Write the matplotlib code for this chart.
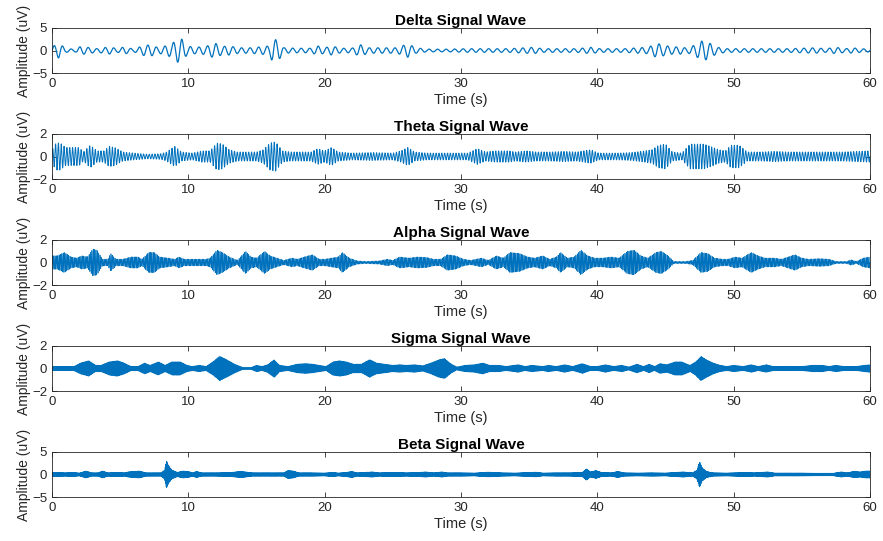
import numpy as np
import matplotlib.pyplot as plt

plt.rcParams['font.family'] = ['Liberation Sans', 'DejaVu Sans']

# sampling of the drawn traces
fs = 200
t = np.arange(0, 60 + 1.0 / fs, 1.0 / fs)

bands = ['Delta', 'Theta', 'Alpha', 'Sigma', 'Beta']
centre_freq = [1.6, 4.8, 10.0, 13.0, 21.0]   # Hz, typical rhythm of each band
ylims = [5, 2, 2, 2, 5]
xticks = [0, 10, 20, 30, 40, 50, 60]

# burst envelopes: (time s, amplitude uV)
delta_t = [0, 0.5, 1.0, 1.7, 2.1, 2.6, 3.3, 4.2, 4.8, 5.3, 6.0, 6.8, 7.3, 7.8, 8.3, 8.8,
           9.2, 9.5, 9.9, 10.5, 11.3, 11.9, 12.5, 13.0, 13.7, 14.5, 15.3, 15.9, 16.2,
           16.6, 17.0, 18.0, 19.0, 19.5, 20.0, 20.5, 21.2, 22.0, 22.6, 23.2, 24.2, 25.3,
           26.1, 26.7, 27.5, 29.0, 30.5, 32.0, 33.5, 35.3, 36.0, 37.5, 38.5, 39.5, 40.2,
           42.0, 43.0, 43.7, 44.4, 44.8, 45.5, 46.1, 46.6, 47.2, 47.8, 48.2, 48.8, 49.5,
           52.0, 54.0, 56.0, 56.7, 57.5, 58.2, 58.7, 59.3, 60.0]
delta_a = [0.8, 1.7, 0.4, 0.3, 0.9, 0.7, 0.4, 0.8, 0.4, 0.8, 0.3, 1.2, 1.2, 0.6, 1.0, 1.5,
           2.6, 2.6, 1.0, 0.7, 0.9, 1.7, 0.9, 1.0, 0.6, 0.6, 0.8, 1.0, 2.6,
           2.2, 0.6, 0.5, 0.5, 1.0, 0.6, 1.0, 0.5, 0.5, 1.3, 0.6, 0.6, 0.6,
           1.5, 0.6, 0.3, 0.3, 0.4, 0.4, 0.4, 0.7, 0.4, 0.4, 0.4, 0.7, 0.4,
           0.4, 0.6, 0.7, 1.6, 1.2, 0.8, 0.8, 0.5, 1.3, 2.3, 1.7, 0.7, 0.4,
           0.4, 0.4, 0.6, 0.4, 0.7, 0.4, 0.6, 0.4, 0.3]

theta_t = [0, 0.3, 0.6, 1.0, 2.0, 2.3, 2.8, 3.3, 3.8, 4.2, 4.6, 5.2, 6.0, 7.0, 8.0, 8.4,
           9.0, 9.5, 10.3, 11.0, 11.6, 12.1, 12.5, 13.0, 13.6, 15.0, 15.5, 16.0, 16.4,
           16.9, 17.5, 19.0, 19.5, 20.0, 20.5, 21.0, 22.0, 23.5, 25.0, 25.6, 26.1, 26.6,
           27.5, 29.0, 30.5, 31.2, 31.8, 32.5, 33.5, 34.0, 34.8, 35.5, 36.5, 37.5, 38.5,
           39.5, 40.1, 41.5, 42.5, 43.5, 44.0, 44.5, 45.0, 45.5, 46.2, 46.8, 47.3, 47.8,
           48.3, 48.9, 49.4, 49.8, 50.4, 51.0, 52.0, 53.0, 54.0, 55.0, 56.5, 58.0, 59.0,
           60.0]
theta_a = [0.6, 1.2, 1.2, 0.8, 0.8, 0.4, 1.0, 0.5, 0.5, 0.9, 0.8, 0.4, 0.3, 0.2, 0.25, 0.4,
           0.9, 0.4, 0.3, 0.5, 0.5, 1.2, 1.1, 0.6, 0.4, 0.4, 0.6, 1.2, 1.3,
           0.5, 0.4, 0.4, 0.7, 0.5, 0.8, 0.4, 0.3, 0.35, 0.3, 0.5, 0.8, 0.4,
           0.3, 0.3, 0.3, 0.7, 0.4, 0.5, 0.5, 0.4, 0.5, 0.4, 0.4, 0.45, 0.4,
           0.6, 0.3, 0.3, 0.35, 0.5, 0.6, 1.0, 1.1, 0.4, 0.3, 1.1, 1.1, 1.1,
           0.9, 0.6, 0.5, 1.0, 1.0, 0.4, 0.4, 0.45, 0.4, 0.4, 0.4, 0.4, 0.45,
           0.5]

alpha_t = [0, 0.4, 0.9, 1.4, 1.8, 2.2, 2.6, 3.0, 3.3, 3.7, 4.1, 4.3, 4.7, 5.2, 5.8, 6.3,
           6.6, 7.1, 7.5, 7.9, 8.5, 9.0, 9.3, 9.7, 10.5, 11.3, 11.6, 12.1, 12.5, 13.0,
           13.6, 14.2, 14.6, 15.0, 15.6, 16.0, 16.5, 17.0, 17.6, 18.0, 18.5, 19.1, 19.6,
           20.0, 20.5, 21.0, 21.3, 21.8, 22.4, 23.0, 24.0, 24.6, 25.0, 25.5, 26.2, 26.8,
           27.5, 28.0, 28.5, 29.0, 29.6, 30.2, 30.7, 31.5, 32.0, 32.6, 33.1, 33.6, 34.3,
           34.9, 35.4, 36.0, 36.5, 37.0, 37.3, 37.8, 38.3, 38.8, 39.3, 39.8, 40.4, 41.0,
           41.6, 42.2, 42.7, 43.2, 43.7, 44.3, 44.7, 45.2, 45.6, 46.5, 47.0, 47.6, 48.1,
           48.6, 49.2, 49.6, 50.1, 50.6, 51.3, 51.8, 52.3, 53.0, 53.5, 54.5, 55.0, 55.5,
           56.3, 57.0, 57.5, 58.3, 58.6, 59.0, 59.5, 60.0]
alpha_a = [0.6, 0.6, 0.9, 0.5, 0.4, 0.6, 0.5, 1.2, 1.1, 0.3, 0.3, 0.8, 0.3, 0.3, 0.5, 0.5,
           0.3, 0.9, 0.9, 0.5, 0.4, 0.3, 0.5, 0.3, 0.3, 0.3, 0.4, 1.1, 0.9, 0.5,
           0.2, 1.0, 0.5, 0.4, 1.0, 0.6, 0.4, 0.2, 0.4, 0.3, 0.5, 0.7, 0.3,
           0.3, 0.4, 0.5, 0.9, 0.4, 0.15, 0.1, 0.15, 0.3, 0.2, 0.5, 0.4, 0.5,
           0.45, 0.3, 0.3, 0.7, 0.6, 0.3, 0.2, 0.4, 0.2, 0.6, 0.4, 0.9, 0.8,
           0.5, 0.4, 0.6, 0.3, 0.5, 0.9, 0.4, 0.5, 1.1, 0.6, 0.4, 0.4, 0.5,
           0.4, 1.0, 1.1, 0.6, 0.4, 0.9, 1.0, 0.6, 0.1, 0.1, 0.2, 0.9, 0.8,
           0.4, 0.3, 0.3, 0.5, 0.4, 0.9, 0.6, 0.4, 0.4, 0.3, 0.7, 0.4, 0.3,
           0.35, 0.3, 0.1, 0.1, 0.25, 0.1, 0.4, 0.5]

sigma_t = [0, 1.0, 1.6, 2.1, 2.7, 3.2, 3.6, 4.2, 4.8, 5.3, 5.8, 6.3, 6.8, 7.2, 7.8, 8.3,
           8.8, 9.4, 9.9, 10.3, 10.8, 11.3, 11.8, 12.3, 12.8, 13.4, 14.0, 14.6, 15.0,
           15.4, 15.8, 16.3, 16.7, 17.3, 18.0, 18.6, 19.1, 19.6, 20.1, 20.6, 21.1, 21.6,
           22.1, 22.7, 23.3, 23.8, 24.4, 25.0, 25.5, 26.0, 26.6, 27.2, 27.8, 28.4, 28.8,
           29.3, 29.7, 30.3, 31.0, 31.6, 32.1, 32.8, 33.3, 34.2, 34.7, 35.2, 36.0, 36.4,
           37.0, 37.6, 38.2, 38.9, 39.5, 40.0, 40.6, 41.2, 41.8, 42.3, 42.9, 43.4, 43.8,
           44.2, 44.6, 45.1, 45.7, 46.2, 46.8, 47.2, 47.6, 48.0, 48.5, 49.0, 49.5, 50.0,
           50.7, 51.3, 51.8, 52.4, 52.9, 53.5, 55.0, 55.8, 56.5, 57.0, 57.5, 58.1, 59.0,
           59.6, 60.0]
sigma_a = [0.2, 0.2, 0.2, 0.5, 0.7, 0.3, 0.3, 0.6, 0.7, 0.5, 0.2, 0.2, 0.5, 0.3, 0.6, 0.3,
           0.6, 0.6, 0.3, 0.2, 0.3, 0.2, 0.6, 1.1, 0.8, 0.4, 0.1, 0.1, 0.3,
           0.2, 0.35, 0.8, 0.3, 0.2, 0.4, 0.45, 0.4, 0.3, 0.2, 0.6, 0.7, 0.6,
           0.4, 0.4, 0.8, 0.5, 0.4, 0.3, 0.35, 0.3, 0.35, 0.25, 0.5, 0.8, 0.9,
           0.4, 0.15, 0.3, 0.35, 0.5, 0.3, 0.3, 0.2, 0.35, 0.2, 0.3, 0.2, 0.3,
           0.2, 0.35, 0.2, 0.45, 0.2, 0.2, 0.35, 0.2, 0.3, 0.15, 0.4, 0.2, 0.4,
           0.2, 0.45, 0.35, 0.6, 0.6, 0.3, 0.6, 1.1, 0.8, 0.5, 0.3, 0.2, 0.3,
           0.2, 0.35, 0.2, 0.35, 0.2, 0.2, 0.2, 0.3, 0.3, 0.2, 0.3, 0.2, 0.2,
           0.3, 0.35]

beta_t = [0, 1.0, 1.5, 2.0, 2.5, 2.9, 3.4, 3.7, 4.1, 4.8, 5.3, 5.6, 6.0, 6.4, 6.9, 7.5,
          8.0, 8.25, 8.4, 8.55, 8.8, 9.2, 9.6, 10.0, 10.3, 10.6, 11.0, 12.0, 13.0, 13.8,
          14.2, 14.7, 16.0, 17.0, 17.3, 17.7, 18.1, 19.0, 20.0, 20.6, 21.0, 21.6, 22.0,
          22.4, 23.5, 24.0, 25.0, 26.0, 27.0, 27.4, 28.0, 28.6, 29.0, 30.0, 31.0, 32.0,
          33.0, 34.0, 35.5, 36.0, 37.0, 38.0, 38.9, 39.2, 39.5, 39.9, 40.3, 41.0, 41.5,
          42.0, 43.0, 44.0, 45.0, 46.3, 47.0, 47.3, 47.5, 47.7, 48.0, 48.5, 49.5, 50.5,
          51.0, 51.5, 52.5, 53.0, 55.0, 56.0, 57.3, 57.9, 58.3, 58.8, 59.3, 59.7, 60.0]
beta_a = [0.5, 0.4, 0.5, 0.35, 0.8, 0.4, 0.4, 0.8, 0.4, 0.5, 0.4, 0.6, 0.7, 0.8, 0.4, 0.4,
          0.4, 1.0, 3.1, 2.0, 1.0, 0.5, 0.8, 0.7, 0.4, 0.7, 0.4, 0.4, 0.45, 0.7,
          0.6, 0.4, 0.4, 0.4, 0.9, 0.8, 0.4, 0.4, 0.35, 0.5, 0.35, 0.5, 0.7,
          0.4, 0.6, 0.4, 0.5, 0.4, 0.5, 0.6, 0.4, 0.6, 0.4, 0.4, 0.35, 0.55,
          0.4, 0.35, 0.55, 0.35, 0.4, 0.4, 0.5, 1.3, 0.6, 0.9, 0.5, 0.4, 0.7,
          0.4, 0.35, 0.4, 0.35, 0.6, 0.4, 1.0, 2.9, 1.5, 0.7, 0.4, 0.35, 0.45,
          0.5, 0.4, 0.6, 0.35, 0.35, 0.3, 0.3, 0.6, 0.4, 0.7, 0.6, 0.8, 0.8]

env_t = [delta_t, theta_t, alpha_t, sigma_t, beta_t]
env_a = [delta_a, theta_a, alpha_a, sigma_a, beta_a]

# axes boxes in figure pixels (top, bottom) as in the reference
fig_w, fig_h = 883, 541
ax_left, ax_right = 52, 870
ax_rows = [(28, 73), (134, 179), (240, 285), (346, 391), (452, 497)]
line_w = [0.9, 0.7, 0.5, 0.5, 0.5]

fig = plt.figure(figsize=(fig_w / 100, fig_h / 100), dpi=100)
fig.patch.set_facecolor('white')

for i, name in enumerate(bands):
    top, bot = ax_rows[i]
    ax = fig.add_axes([ax_left / fig_w, 1 - bot / fig_h,
                       (ax_right - ax_left) / fig_w, (bot - top) / fig_h])
    envelope = np.interp(t, env_t[i], env_a[i])
    wave = envelope * np.sin(2 * np.pi * centre_freq[i] * t)
    ax.plot(t, wave, color='#0072BD', lw=line_w[i])

    ax.set_xlim(0, 60)
    ax.set_ylim(-ylims[i], ylims[i])
    ax.set_xticks(xticks)
    ax.set_yticks([-ylims[i], 0, ylims[i]])
    ax.tick_params(direction='in', length=3.5, width=0.6, top=True, right=True,
                   labelsize=9.5, colors='#262626', pad=3.5)
    for s in ax.spines.values():
        s.set_color('#262626')
        s.set_linewidth(0.6)
    ax.set_title(f'{name} Signal Wave', fontsize=11, fontweight='bold', pad=2)
    ax.set_xlabel('Time (s)', fontsize=10.5, labelpad=2, color='#262626')
    ax.set_ylabel('Amplitude (uV)', fontsize=10, labelpad=1, color='#262626')

fig.savefig('out.png', dpi=100)
